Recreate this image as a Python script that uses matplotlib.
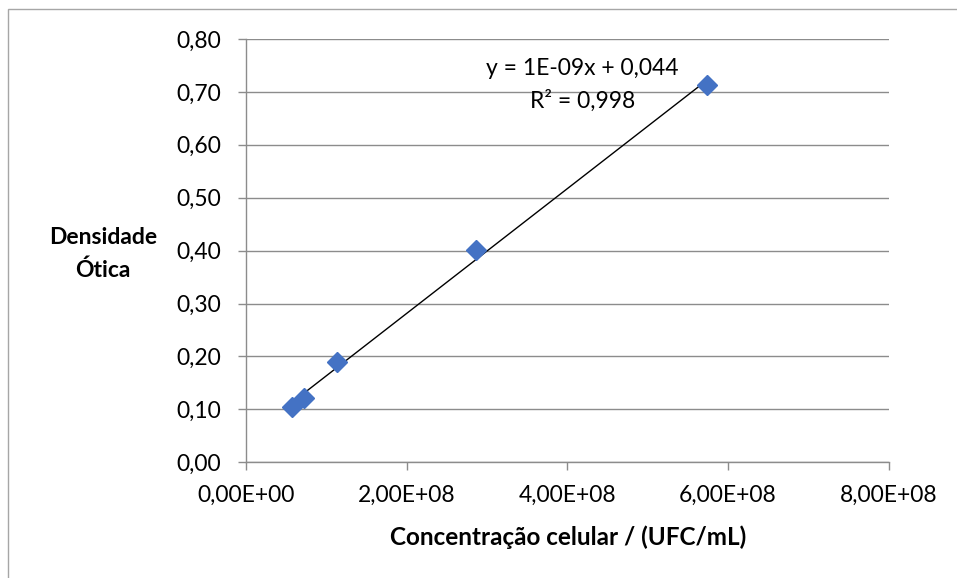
import numpy as np
import matplotlib.pyplot as plt
from matplotlib.patches import Rectangle

plt.rcParams['font.family'] = ['Lato', 'DejaVu Sans']

# Data
conc = [0.575e8, 0.721e8, 1.136e8, 2.863e8, 5.743e8]
dens = [0.104, 0.121, 0.189, 0.401, 0.714]
xticks = [0, 2e8, 4e8, 6e8, 8e8]
xtick_labels = ['0,00E+00', '2,00E+08', '4,00E+08', '6,00E+08', '8,00E+08']
yticks = [0.0, 0.1, 0.2, 0.3, 0.4, 0.5, 0.6, 0.7, 0.8]
ytick_labels = ['0,00', '0,10', '0,20', '0,30', '0,40', '0,50', '0,60', '0,70', '0,80']

gray = '#8c8c8c'

fig = plt.figure(figsize=(9.57, 5.78), dpi=100)
fig.patches.append(Rectangle((8/957, -0.05), 1.2, 1 - 9/578 + 0.05,
                             transform=fig.transFigure, fill=False,
                             edgecolor='#a6a6a6', linewidth=1.0))
ax = fig.add_axes([0.257, 0.2002, 0.6716, 0.7323])

# trendline
m, b = np.polyfit(conc, dens, 1)
xs = np.array([min(conc), max(conc)])
ax.plot(xs, m*xs + b, color='black', linewidth=1.0, zorder=2)
ax.plot(conc, dens, linestyle='none', marker='D', markersize=10.5,
        color='#4472C4', zorder=3)

ax.set_xlim(0, 8e8)
ax.set_ylim(0, 0.8)
ax.set_xticks(xticks)
ax.set_xticklabels(xtick_labels)
ax.set_yticks(yticks)
ax.set_yticklabels(ytick_labels)
ax.tick_params(axis='both', labelsize=16.5, color=gray, length=6, width=1)
ax.tick_params(axis='y', pad=12)
ax.tick_params(axis='x', pad=10)
ax.grid(True, axis='y', color=gray, linewidth=1.0, zorder=0)
ax.set_axisbelow(True)
for s in ['top', 'right']:
    ax.spines[s].set_visible(False)
for s in ['left', 'bottom']:
    ax.spines[s].set_color(gray)
    ax.spines[s].set_linewidth(1.0)

ax.text(4.18e8, 0.745, 'y = 1E-09x + 0,044', ha='center', va='center', fontsize=16.5)
ax.text(4.19e8, 0.683, 'R² = 0,998', ha='center', va='center', fontsize=16.5)

fig.text(103/957, 1 - 254/578, 'Densidade\nÓtica', ha='center', va='center',
         fontsize=16.5, fontweight='bold', linespacing=1.65)
fig.text(568/957, 1 - 537/578, 'Concentração celular / (UFC/mL)', ha='center',
         va='center', fontsize=17.5, fontweight='bold')

fig.savefig('out.png', dpi=100)
